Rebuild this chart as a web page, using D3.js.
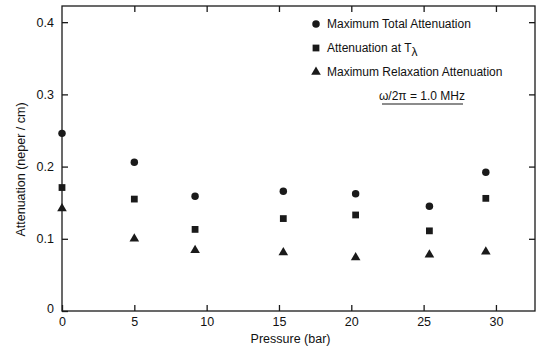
<!DOCTYPE html>
<html>
<head>
<meta charset="utf-8">
<script src="https://cdn.jsdelivr.net/npm/d3@7"></script>
<style>
  body { margin: 0; background: #fff; }
  text { font-family: "Liberation Sans", Arial, sans-serif; fill: #111; }
</style>
</head>
<body>
<div id="chart"></div>
<script>
// data
const pressure = [0, 5, 9.2, 15.3, 20.3, 25.4, 29.3]
const maxTotal = [0.246, 0.206, 0.159, 0.166, 0.1625, 0.145, 0.192]
const atLambda = [0.171, 0.155, 0.113, 0.128, 0.133, 0.111, 0.156]
const maxRelax = [0.142, 0.100, 0.084, 0.081, 0.074, 0.078, 0.082]
const xTicks = [0, 5, 10, 15, 20, 25, 30]
const yTicks = [0, 0.1, 0.2, 0.3, 0.4]

const margin = { top: 6, right: 2, bottom: 41, left: 62 },
    width = 537 - margin.left - margin.right,
    height = 352 - margin.top - margin.bottom

const svg = d3.select('#chart')
    .append('svg')
    .attr('width', 537)
    .attr('height', 352)
    .append('g')
    .attr('transform', 'translate(' + margin.left + ',' + margin.top + ')')

const x = d3.scaleLinear().domain([0, 32.7]).range([0, width])
const y = d3.scaleLinear().domain([0, 0.4224]).range([height, 0])

const ink = '#1a1a1a'

// frame
svg.append('rect')
    .attr('x', 0).attr('y', 0)
    .attr('width', width).attr('height', height)
    .attr('fill', 'none')
    .attr('stroke', ink)
    .attr('stroke-width', 1.3)

// bottom axis, ticks pointing in
const xAxis = svg.append('g')
    .attr('transform', 'translate(0,' + height + ')')
    .call(d3.axisBottom(x).tickValues(xTicks).tickSize(-6).tickPadding(6).tickFormat(d3.format('d')))
xAxis.select('.domain').remove()

// top ticks
const xTop = svg.append('g')
    .call(d3.axisTop(x).tickValues(xTicks.slice(1)).tickSize(-6).tickFormat(''))
xTop.select('.domain').remove()

// left axis
const yAxis = svg.append('g')
    .call(d3.axisLeft(y).tickValues(yTicks).tickSize(-6).tickPadding(8)
        .tickFormat(d => d === 0 ? '0' : d3.format('.1f')(d)))
yAxis.select('.domain').remove()
yAxis.selectAll('.tick').filter(d => d === 0).select('text').attr('dy', '0.1em')

// right ticks
const yRight = svg.append('g')
    .attr('transform', 'translate(' + width + ',0)')
    .call(d3.axisRight(y).tickValues(yTicks.slice(1)).tickSize(-6).tickFormat(''))
yRight.select('.domain').remove()

svg.selectAll('.tick line').attr('stroke', ink).attr('stroke-width', 1.3)
svg.selectAll('.tick text').style('font-size', '12.5px').attr('fill', ink)

// axis titles
svg.append('text')
    .attr('x', x(15.8))
    .attr('y', height + 32)
    .attr('text-anchor', 'middle')
    .style('font-size', '12.5px')
    .text('Pressure (bar)')

svg.append('text')
    .attr('transform', 'translate(' + (-37) + ',' + y(0.196) + ') rotate(-90)')
    .attr('text-anchor', 'middle')
    .style('font-size', '12.5px')
    .text('Attenuation (neper / cm)')

// markers
const circleSym = d3.symbol().type(d3.symbolCircle).size(44)
const squareSym = d3.symbol().type(d3.symbolSquare).size(46)
const triSym = d3.symbol().type(d3.symbolTriangle).size(40)

function plot(vals, sym) {
    svg.append('g')
        .selectAll('path')
        .data(vals)
        .enter()
        .append('path')
        .attr('d', sym)
        .attr('transform', (d, i) => 'translate(' + x(pressure[i]) + ',' + y(d) + ')')
        .attr('fill', ink)
}
plot(maxTotal, circleSym)
plot(atLambda, squareSym)
plot(maxRelax, triSym)

// legend
const legend = [
    { sym: circleSym, label: 'Maximum Total Attenuation' },
    { sym: squareSym, label: 'Attenuation at T' },
    { sym: triSym, label: 'Maximum Relaxation Attenuation' }
]
const lg = svg.append('g').attr('transform', 'translate(254,18)')
legend.forEach((d, i) => {
    const row = lg.append('g').attr('transform', 'translate(0,' + (i * 24) + ')')
    row.append('path').attr('d', d.sym).attr('fill', ink)
    const t = row.append('text')
        .attr('x', 11)
        .attr('y', 4)
        .style('font-size', '12px')
        .text(d.label)
    if (i === 1) {
        t.append('tspan').attr('dy', 4).style('font-size', '12px').text('λ')
    }
})

// frequency note
svg.append('text')
    .attr('x', 360)
    .attr('y', 94)
    .attr('text-anchor', 'middle')
    .style('font-size', '12px')
    .text('ω/2π = 1.0 MHz')
svg.append('line')
    .attr('x1', 320).attr('x2', 401)
    .attr('y1', 98).attr('y2', 98)
    .attr('stroke', ink).attr('stroke-width', 1.2)
</script>
</body>
</html>
